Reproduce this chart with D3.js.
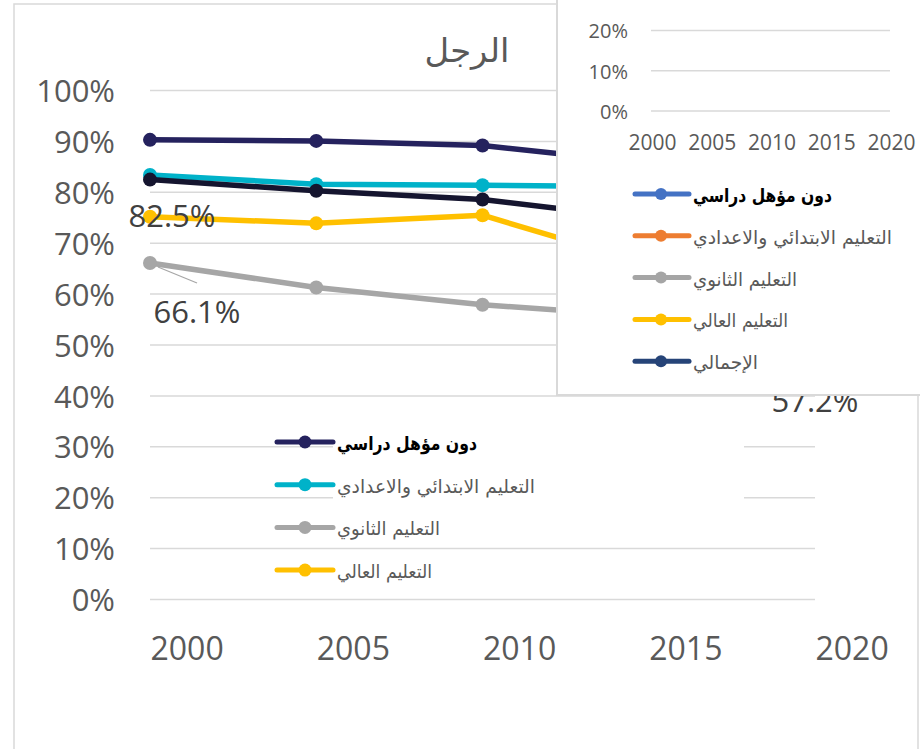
<!DOCTYPE html>
<html><head><meta charset="utf-8">
<script src="https://cdn.jsdelivr.net/npm/d3@7/dist/d3.min.js"></script>
<style>body{margin:0;background:#fff}svg{display:block}</style>
</head><body><svg id="c" width="920" height="749"></svg>
<script>
// ---- data ----
const title = "الرجل";
const years = [2000, 2005, 2010, 2015, 2020];
const seriesNames = ["دون مؤهل دراسي", "التعليم الابتدائي والاعدادي", "التعليم الثانوي", "التعليم العالي", "الإجمالي"];
const noQualification = [0.903, 0.901, 0.892, 0.857, 0.846];
const primaryPrep     = [0.834, 0.816, 0.814, 0.811, 0.806];
const secondary       = [0.661, 0.613, 0.579, 0.556, 0.572];
const higher          = [0.752, 0.739, 0.755, 0.658, 0.660];
const total           = [0.825, 0.803, 0.786, 0.747, 0.740];
const yTicks = [0, 0.1, 0.2, 0.3, 0.4, 0.5, 0.6, 0.7, 0.8, 0.9, 1.0];
const xTicks = [2000, 2005, 2010, 2015, 2020];
const insetYTicks = [0, 0.1, 0.2];
const insetXTicks = [2000, 2005, 2010, 2015, 2020];
// data labels: [series index, year index]
const dataLabels = [[4, 0], [2, 0], [2, 4]];

// ---- styles / layout ----
const mainColors = ["#25225e", "#00b2c9", "#a6a6a6", "#ffc000", "#15152f"];
const insetColors = ["#4472c4", "#ed7d31", "#a5a5a5", "#ffc000", "#264478"];
const labelOffsets = [[22, 47], [47, 60], [0, 104]];
const mainLegendWidths = [140, 198, 103, 95];
const insetLegendWidths = [139, 199, 104, 95, 65];
const numFont = "'Open Sans', 'Liberation Sans', sans-serif";
const arFont = "'DejaVu Sans', sans-serif";

const allSeries = [noQualification, primaryPrep, secondary, higher, total];
const svg = d3.select("#c");

// outer chart border
svg.append("rect").attr("x", 14).attr("y", 4).attr("width", 904).attr("height", 800)
  .attr("fill", "#fff").attr("stroke", "#d9d9d9").attr("stroke-width", 1.5);

const x = d3.scaleLinear().domain([2000, 2020]).range([150, 815]);
const y = d3.scaleLinear().domain([0, 1]).range([599.5, 90.5]);

// gridlines
svg.append("g").selectAll("line").data(yTicks).join("line")
  .attr("x1", 150).attr("x2", 815)
  .attr("y1", d => y(d)).attr("y2", d => y(d))
  .attr("stroke", "#d9d9d9").attr("stroke-width", 1.5);

// y axis
const yAxis = svg.append("g").attr("transform", "translate(150,0)")
  .call(d3.axisLeft(y).tickValues(yTicks).tickFormat(d3.format(".0%")).tickSize(0).tickPadding(35));
yAxis.select(".domain").remove();
yAxis.selectAll("text").attr("font-family", numFont).attr("font-size", 31)
  .attr("fill", "#595959").attr("dy", "0.36em");

// x axis
const xAxis = svg.append("g").attr("transform", "translate(0,660)")
  .call(d3.axisBottom(x).tickValues(xTicks).tickFormat(d3.format("d")).tickSize(0).tickPadding(0));
xAxis.select(".domain").remove();
xAxis.selectAll("text").attr("font-family", numFont).attr("font-size", 32)
  .attr("fill", "#595959").attr("text-anchor", "start").attr("dy", 0).attr("y", 0);

// title
svg.append("text").attr("x", 467).attr("y", 62).attr("text-anchor", "middle")
  .attr("font-family", arFont).attr("font-size", 33).attr("fill", "#595959")
  .attr("textLength", 85).attr("lengthAdjust", "spacingAndGlyphs").text(title);

// lines
const line = d3.line().x((d, i) => x(years[i])).y(d => y(d));
[0, 1, 2, 3, 4].forEach(si => {
  const g = svg.append("g");
  g.append("path").datum(allSeries[si]).attr("d", line).attr("fill", "none")
    .attr("stroke", mainColors[si]).attr("stroke-width", 5.5).attr("stroke-linejoin", "round");
  g.selectAll("circle").data(allSeries[si]).join("circle")
    .attr("cx", (d, i) => x(years[i])).attr("cy", d => y(d)).attr("r", 7)
    .attr("fill", mainColors[si]);
});

// data labels
const pct1 = d3.format(".1%");
dataLabels.forEach(([si, yi], k) => {
  const px = x(years[yi]), py = y(allSeries[si][yi]);
  const [dx, dy] = labelOffsets[k];
  if (k === 1) {
    svg.append("line").attr("x1", px + 8).attr("y1", py + 4).attr("x2", px + 47).attr("y2", py + 20)
      .attr("stroke", "#a6a6a6").attr("stroke-width", 1.2);
  }
  svg.append("text").attr("x", px + dx).attr("y", py + dy).attr("text-anchor", "middle")
    .attr("font-family", numFont).attr("font-size", 31).attr("fill", "#404040")
    .text(pct1(allSeries[si][yi]));
});

// main legend
const mainLeg = svg.append("g");
[0, 1, 2, 3].forEach((si, k) => {
  const cy = 442 + k * 42.7;
  mainLeg.append("rect").attr("x", 333).attr("y", cy - 19).attr("width", 411).attr("height", 38).attr("fill", "#fff");
  mainLeg.append("line").attr("x1", 277).attr("x2", 333).attr("y1", cy).attr("y2", cy)
    .attr("stroke", mainColors[si]).attr("stroke-width", 5).attr("stroke-linecap", "round");
  mainLeg.append("circle").attr("cx", 305).attr("cy", cy).attr("r", 6.5).attr("fill", mainColors[si]);
  mainLeg.append("text").attr("x", 337).attr("y", cy + 8).attr("font-family", arFont)
    .attr("font-size", 19).attr("fill", k === 0 ? "#000" : "#595959").attr("font-weight", k === 0 ? "bold" : "normal")
    .attr("textLength", mainLegendWidths[k]).attr("lengthAdjust", "spacingAndGlyphs")
    .text(seriesNames[si]);
});

// ---- inset chart (overlapping) ----
const inset = svg.append("g");
inset.append("rect").attr("x", 557).attr("y", -10).attr("width", 400).attr("height", 405)
  .attr("fill", "#fff").attr("stroke", "#d9d9d9").attr("stroke-width", 2);
const ix = d3.scaleLinear().domain([2000, 2020]).range([652, 891]);
const iy = d3.scaleLinear().domain([0, 0.2]).range([111, 30.6]);
inset.append("g").selectAll("line").data(insetYTicks).join("line")
  .attr("x1", 651).attr("x2", 890).attr("y1", d => iy(d)).attr("y2", d => iy(d))
  .attr("stroke", "#d9d9d9").attr("stroke-width", 1.5);
const iyAxis = inset.append("g").attr("transform", "translate(651,0)")
  .call(d3.axisLeft(iy).tickValues(insetYTicks).tickFormat(d3.format(".0%")).tickSize(0).tickPadding(23));
iyAxis.select(".domain").remove();
iyAxis.selectAll("text").attr("font-family", numFont).attr("font-size", 20).attr("fill", "#595959").attr("dy", "0.36em");
const ixAxis = inset.append("g").attr("transform", "translate(0,150)")
  .call(d3.axisBottom(ix).tickValues(insetXTicks).tickFormat(d3.format("d")).tickSize(0).tickPadding(0));
ixAxis.select(".domain").remove();
ixAxis.selectAll("text").attr("font-family", numFont).attr("font-size", 21).attr("fill", "#595959").attr("dy", 0).attr("y", 0);

[0, 1, 2, 3, 4].forEach((si, k) => {
  const cy = 194 + k * 41.8;
  inset.append("line").attr("x1", 635).attr("x2", 689).attr("y1", cy).attr("y2", cy)
    .attr("stroke", insetColors[si]).attr("stroke-width", 5).attr("stroke-linecap", "round");
  inset.append("circle").attr("cx", 661).attr("cy", cy).attr("r", 6).attr("fill", insetColors[si]);
  inset.append("text").attr("x", 693).attr("y", cy + 8).attr("font-family", arFont)
    .attr("font-size", 19).attr("fill", k === 0 ? "#000" : "#595959").attr("font-weight", k === 0 ? "bold" : "normal")
    .attr("textLength", insetLegendWidths[k]).attr("lengthAdjust", "spacingAndGlyphs")
    .text(seriesNames[si]);
});
</script></body></html>
